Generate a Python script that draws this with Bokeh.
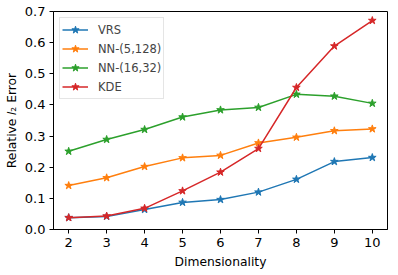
from bokeh.plotting import figure
from bokeh.models import Range1d, FixedTicker, Legend, LegendItem, CustomJSTickFormatter
from bokeh.embed import file_html
from bokeh.resources import INLINE

dims = [2, 3, 4, 5, 6, 7, 8, 9, 10]
vrs = [0.038, 0.042, 0.064, 0.087, 0.096, 0.120, 0.161, 0.218, 0.231]
nn_5_128 = [0.141, 0.166, 0.202, 0.230, 0.238, 0.278, 0.296, 0.317, 0.323]
nn_16_32 = [0.251, 0.289, 0.321, 0.361, 0.384, 0.392, 0.434, 0.428, 0.405]
kde = [0.038, 0.043, 0.068, 0.124, 0.184, 0.260, 0.456, 0.589, 0.671]
series_names = ["VRS", "NN-(5,128)", "NN-(16,32)", "KDE"]
colors = ["#1f77b4", "#ff7f0e", "#2ca02c", "#d62728"]
y_ticks = [0.0, 0.1, 0.2, 0.3, 0.4, 0.5, 0.6, 0.7]

p = figure(width=394, height=273, output_backend="svg", toolbar_location=None,
           x_range=Range1d(1.6, 10.4), y_range=Range1d(0, 0.7),
           min_border_left=53, min_border_right=7, min_border_top=11, min_border_bottom=44)
p.outline_line_color = "black"
p.outline_line_width = 1
p.grid.visible = False
p.background_fill_color = "white"

font = "DejaVu Sans"
for ax in (p.xaxis[0], p.yaxis[0]):
    ax.major_label_text_font = font
    ax.major_label_text_font_size = "13px"
    ax.major_label_text_color = "black"
    ax.axis_label_text_font = font
    ax.axis_label_text_font_size = "12.3px"
    ax.axis_label_text_font_style = "normal"
    ax.axis_label_text_color = "black"
    ax.major_tick_in = 0
    ax.major_tick_out = 4
    ax.minor_tick_line_color = None
    ax.axis_line_color = "black"
    ax.major_tick_line_color = "black"

p.xaxis.ticker = FixedTicker(ticks=dims)
p.yaxis.ticker = FixedTicker(ticks=y_ticks)
p.yaxis.formatter = CustomJSTickFormatter(code="return tick.toFixed(1);")
p.xaxis.axis_label = "Dimensionality"
p.yaxis.axis_label = "Relative \U0001D459\u2082 Error"
p.xaxis.major_label_standoff = 4
p.yaxis.major_label_standoff = 4
p.xaxis.axis_label_standoff = 5
p.yaxis.axis_label_standoff = 3

items = []
for name, ys, c in zip(series_names, [vrs, nn_5_128, nn_16_32, kde], colors):
    l = p.line(dims, ys, line_color=c, line_width=1.5)
    m = p.scatter(dims, ys, marker="star", size=8, fill_color=c, line_color=c)
    items.append(LegendItem(label=name, renderers=[l, m]))

legend = Legend(items=items, location="top_left")
legend.label_text_font = font
legend.label_text_font_size = "11.5px"
legend.padding = 2
legend.margin = 6
legend.glyph_width = 26
legend.glyph_height = 19
legend.label_height = 19
legend.label_standoff = 10
legend.spacing = 0
legend.border_line_color = "#cccccc"
legend.border_line_width = 1
legend.background_fill_alpha = 0.8
p.add_layout(legend)

open("out.html", "w").write(file_html(p, INLINE))
